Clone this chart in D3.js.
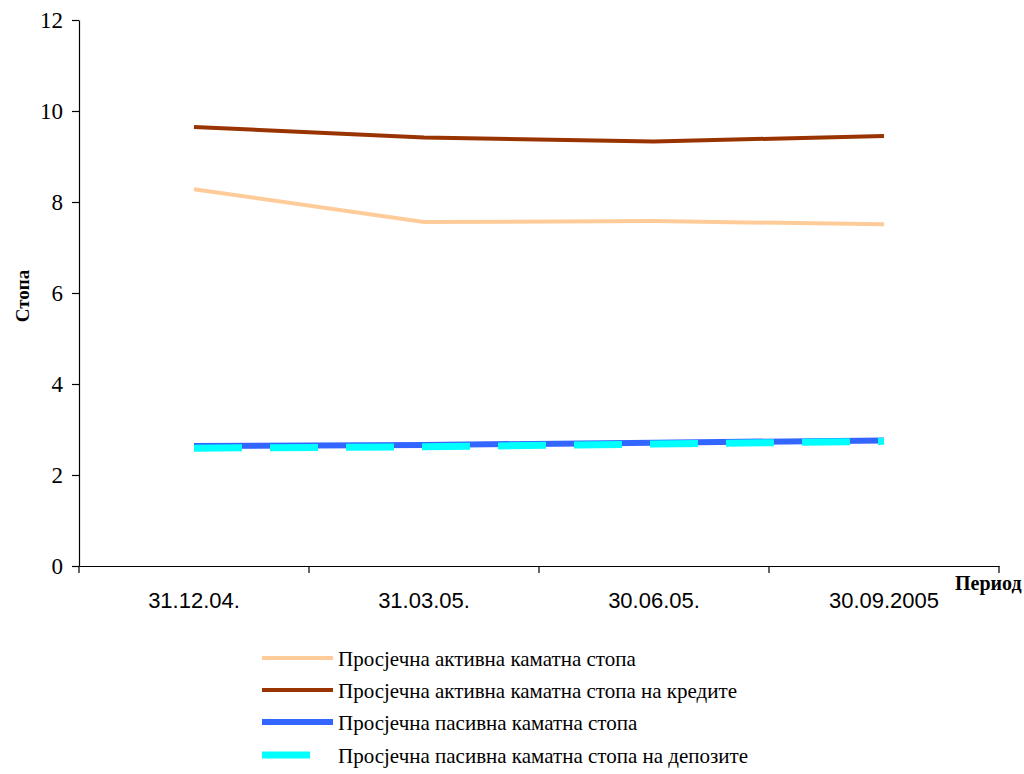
<!DOCTYPE html>
<html><head><meta charset="utf-8">
<script src="https://cdn.jsdelivr.net/npm/d3@7"></script>
<style>body{margin:0;background:#fff}svg{display:block}</style>
</head><body>
<script>
const categories = ["31.12.04.", "31.03.05.", "30.06.05.", "30.09.2005"];
const activeRate = [8.28, 7.56, 7.58, 7.51];
const activeCredits = [9.65, 9.42, 9.33, 9.45];
const passiveRate = [2.64, 2.66, 2.71, 2.76];
const passiveDeposits = [2.59, 2.62, 2.68, 2.74];
const seriesNames = ["Просјечна активна каматна стопа", "Просјечна активна каматна стопа на кредите", "Просјечна пасивна каматна стопа", "Просјечна пасивна каматна стопа на депозите"];
const yTicks = [0, 2, 4, 6, 8, 10, 12];

const SERIF = "'Liberation Serif', 'Times New Roman', serif";
const SANS = "'Liberation Sans', Arial, sans-serif";
const W = 1024, H = 774;
const svg = d3.select("body").append("svg").attr("width", W).attr("height", H);
const mLeft = 79, mRight = 999, mTop = 20, mBottom = 566;

const x = d3.scaleBand().domain(categories).range([mLeft, mRight]);
const y = d3.scaleLinear().domain([0, 12]).range([mBottom, mTop]);

// y axis
const ya = svg.append("g").attr("transform", `translate(${mLeft},0)`)
  .call(d3.axisLeft(y).tickValues(yTicks).tickSize(7).tickPadding(9).tickSizeOuter(0));
ya.attr("font-family", null).attr("font-size", null);
ya.selectAll("text").style("font-family", SERIF).style("font-size", "23px").attr("fill", "#000");
ya.selectAll("line, path").attr("stroke", "#000").attr("stroke-width", 1.2);

// x axis
const xa = svg.append("g").attr("transform", `translate(0,${mBottom})`)
  .call(d3.axisBottom(x).tickSize(0).tickPadding(26).tickSizeOuter(0));
xa.attr("font-family", null).attr("font-size", null);
xa.selectAll("text").style("font-family", SANS).style("font-size", "22px").attr("fill", "#000");
xa.selectAll("path").attr("stroke", "#000").attr("stroke-width", 1.2);
// category boundary ticks
const bounds = categories.map(c => x(c)).concat([mRight]);
xa.selectAll(".bt").data(bounds).enter().append("line")
  .attr("x1", d => d).attr("x2", d => d).attr("y1", 0).attr("y2", 7)
  .attr("stroke", "#000").attr("stroke-width", 1.2);

const cx = c => x(c) + x.bandwidth() / 2;
const line = d3.line().x((d, i) => cx(categories[i])).y(d => y(d));

const series = [
  {vals: activeRate, color: "#FFCC99", w: 4, dash: null},
  {vals: activeCredits, color: "#993300", w: 4, dash: null},
  {vals: passiveRate, color: "#3366FF", w: 6, dash: null},
  {vals: passiveDeposits, color: "#00FFFF", w: 7, dash: "48,28"}
];
series.forEach(s => {
  svg.append("path").attr("d", line(s.vals)).attr("fill", "none")
    .attr("stroke", s.color).attr("stroke-width", s.w)
    .attr("stroke-dasharray", s.dash);
});

// axis titles
svg.append("text").attr("transform", "translate(29,296) rotate(-90)").attr("text-anchor", "middle")
  .style("font-family", SERIF).style("font-weight", "bold").style("font-size", "19px").text("Стопа");
svg.append("text").attr("x", 955).attr("y", 590)
  .style("font-family", SERIF).style("font-weight", "bold").style("font-size", "20px").text("Период");

// legend
const ly = [658, 690, 722, 755];
const lw = [71, 71, 71, 48];
series.forEach((s, i) => {
  svg.append("line").attr("x1", 262).attr("x2", 262 + lw[i]).attr("y1", ly[i]).attr("y2", ly[i])
    .attr("stroke", s.color).attr("stroke-width", s.w);
  svg.append("text").attr("x", 338).attr("y", ly[i] + 8)
    .style("font-family", SERIF).style("font-size", "21px").attr("fill", "#000").text(seriesNames[i]);
});
</script>
</body></html>
